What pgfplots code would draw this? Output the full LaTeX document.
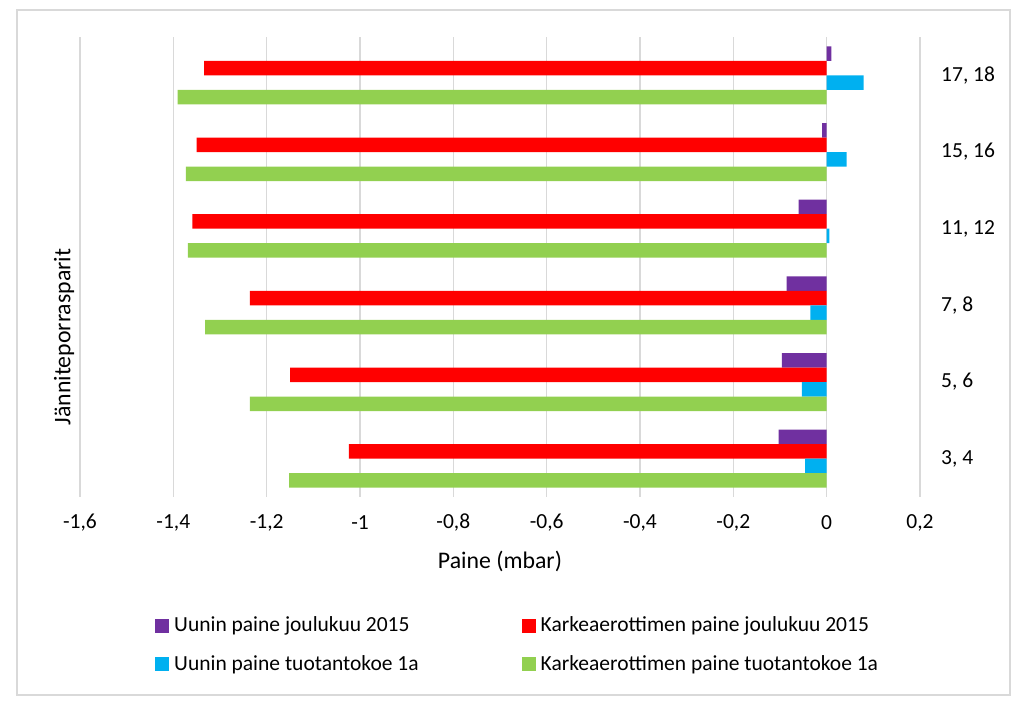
\documentclass[border=0pt]{standalone}
\usepackage{fontspec}
\setmainfont{Carlito}
\usepackage{pgfplots}
\pgfplotsset{compat=1.18}

\definecolor{cpurple}{HTML}{7030A0}
\definecolor{cred}{HTML}{FF0000}
\definecolor{cblue}{HTML}{00B0F0}
\definecolor{cgreen}{HTML}{92D050}
\definecolor{cgrid}{HTML}{D9D9D9}

\begin{document}
\fontsize{21.5}{25}\selectfont
\begin{tikzpicture}
\begin{axis}[
    scale only axis,
    width=840pt, height=460pt,
    xbar, bar width=14.5pt,
    xmin=-1.6, xmax=0.2,
    ymin=-0.5, ymax=5.5,
    y dir=reverse,
    xtick={-1.6,-1.4,-1.2,-1,-0.8,-0.6,-0.4,-0.2,0,0.2},
    xticklabels={{-1,6},{-1,4},{-1,2},{-1},{-0,8},{-0,6},{-0,4},{-0,2},{0},{0,2}},
    ytick={0,1,2,3,4,5},
    yticklabels={{17, 18},{15, 16},{11, 12},{7, 8},{5, 6},{3, 4}},
    yticklabel pos=right,
    major tick length=0pt,
    axis line style={draw=none},
    xmajorgrids, grid style={cgrid, line width=1.5pt},
    xticklabel style={anchor=center, yshift=-26pt},
    yticklabel style={anchor=west, inner sep=0pt, xshift=21pt},
    xlabel={Paine (mbar)},
    every axis x label/.style={at={(axis description cs:0.5,0)}, anchor=center,
        yshift=-64pt, font=\fontsize{23.8}{28}\selectfont},
    ylabel={Jänniteporrasparit},
    every axis y label/.style={at={(axis description cs:0,0.348)}, anchor=center,
        xshift=-16pt, rotate=90, font=\fontsize{23.8}{28}\selectfont},
    legend columns=2,
    legend image code/.code={\fill[#1,draw=none] (0pt,-1pt) rectangle (14pt,13pt);},
    legend style={draw=none, fill=none, inner sep=0pt,
        at={(axis description cs:0.0893,-0.2605)}, anchor=north west,
        cells={anchor=base west}, nodes={inner sep=0pt},
        /tikz/row sep=20pt,
        /tikz/every odd column/.append style={column sep=5pt},
        /tikz/column 2/.style={column sep=103pt}},
]
\addplot[fill=cpurple, draw=none, bar shift=21.75pt] coordinates {
    (0.010,0) (-0.010,1) (-0.060,2) (-0.086,3) (-0.096,4) (-0.103,5)};
\addplot[fill=cred, draw=none, bar shift=7.25pt] coordinates {
    (-1.334,0) (-1.350,1) (-1.359,2) (-1.236,3) (-1.150,4) (-1.024,5)};
\addplot[fill=cblue, draw=none, bar shift=-7.25pt] coordinates {
    (0.079,0) (0.043,1) (0.006,2) (-0.035,3) (-0.053,4) (-0.046,5)};
\addplot[fill=cgreen, draw=none, bar shift=-21.75pt] coordinates {
    (-1.391,0) (-1.373,1) (-1.369,2) (-1.332,3) (-1.236,4) (-1.152,5)};
\legend{Uunin paine joulukuu 2015, Karkeaerottimen paine joulukuu 2015,
        Uunin paine tuotantokoe 1a, Karkeaerottimen paine tuotantokoe 1a}
\coordinate (sw) at (axis description cs:0,0);
\coordinate (ne) at (axis description cs:1,1);
\end{axis}
\pgfresetboundingbox
\draw[cgrid, line width=1.2pt] ([xshift=-63pt,yshift=-198pt]sw) rectangle ([xshift=90pt,yshift=27pt]ne);
\path[use as bounding box] ([xshift=-80pt,yshift=-210pt]sw) rectangle ([xshift=104pt,yshift=37pt]ne);
\end{tikzpicture}
\end{document}
